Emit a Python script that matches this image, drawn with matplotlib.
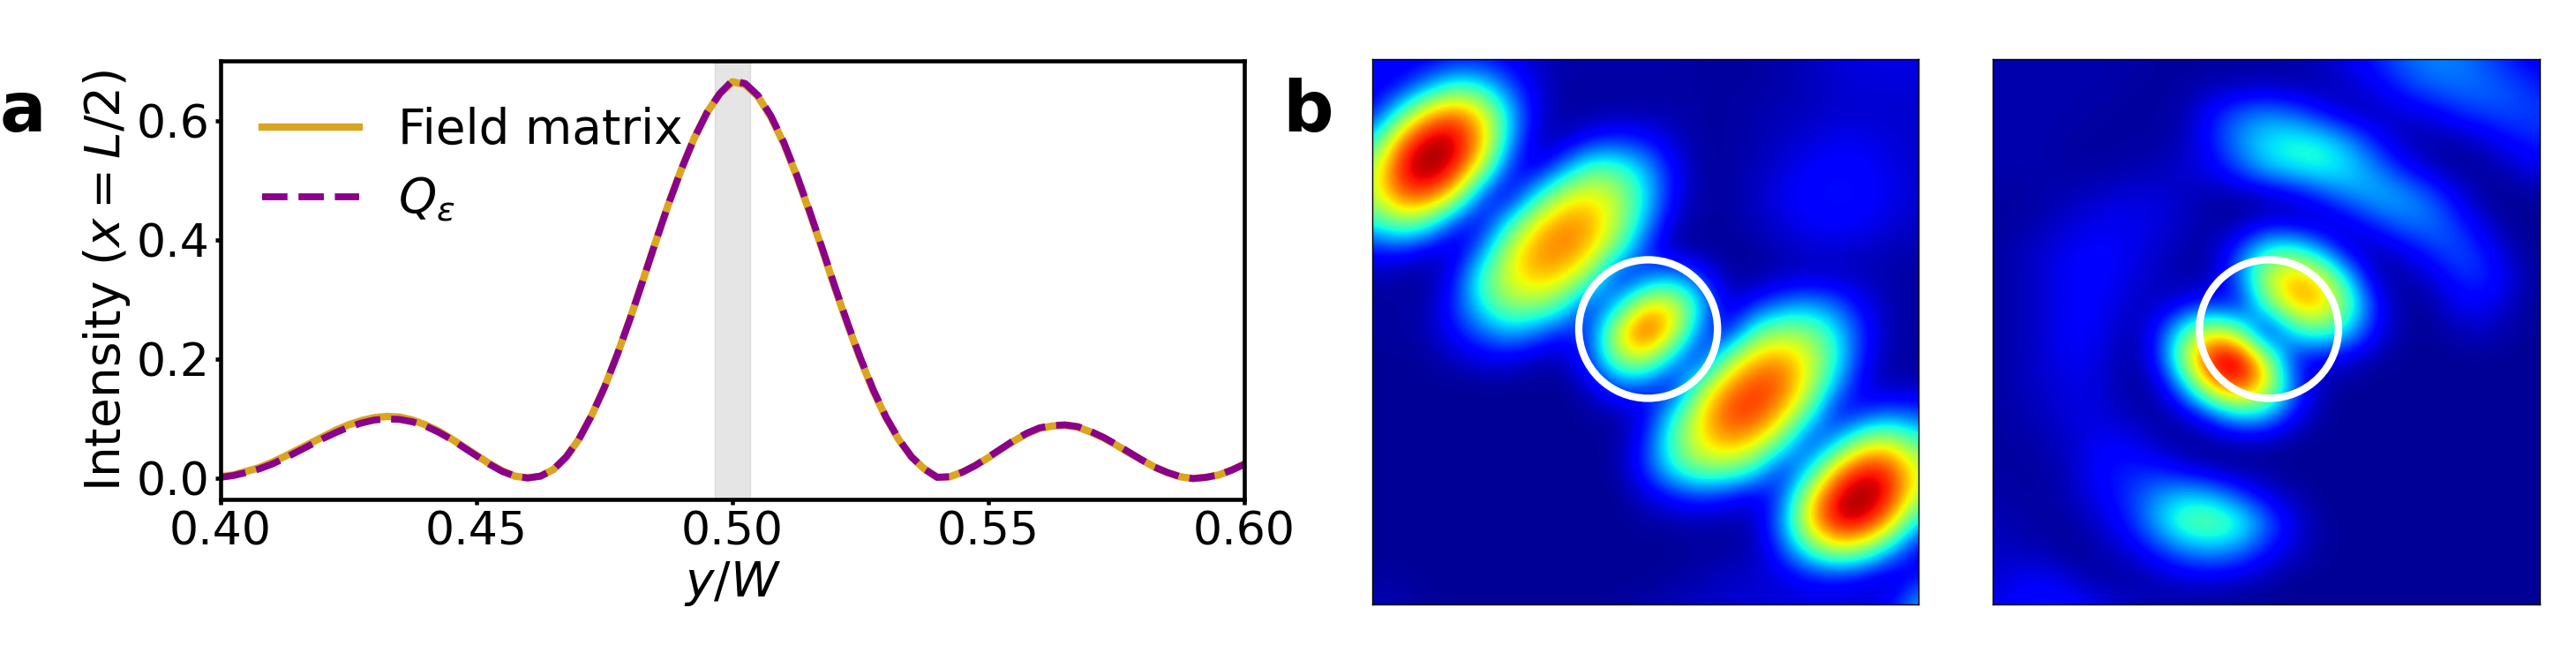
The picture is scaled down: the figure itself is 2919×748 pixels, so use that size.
import numpy as np
import matplotlib
matplotlib.use("Agg")
import matplotlib.pyplot as plt
from matplotlib.patches import Circle

W, H = 2919, 748

y_over_w = [0.4000, 0.4025, 0.4050, 0.4075, 0.4100, 0.4125, 0.4150, 0.4175, 0.4200, 0.4225, 0.4250,
            0.4275, 0.4300, 0.4325, 0.4350, 0.4375, 0.4400, 0.4425, 0.4450, 0.4475, 0.4500,
            0.4525, 0.4550, 0.4575, 0.4600, 0.4625, 0.4650, 0.4675, 0.4700, 0.4725, 0.4750,
            0.4775, 0.4800, 0.4825, 0.4850, 0.4875, 0.4900, 0.4925, 0.4950, 0.4975, 0.5000,
            0.5025, 0.5050, 0.5075, 0.5100, 0.5125, 0.5150, 0.5175, 0.5200, 0.5225, 0.5250,
            0.5275, 0.5300, 0.5325, 0.5350, 0.5375, 0.5400, 0.5425, 0.5450, 0.5475, 0.5500,
            0.5525, 0.5550, 0.5575, 0.5600, 0.5625, 0.5650, 0.5675, 0.5700, 0.5725, 0.5750,
            0.5775, 0.5800, 0.5825, 0.5850, 0.5875, 0.5900, 0.5925, 0.5950, 0.5975, 0.6000]

field_matrix = [0.003, 0.006, 0.012, 0.018, 0.027, 0.037, 0.048, 0.059, 0.070, 0.081, 0.090,
                0.097, 0.102, 0.104, 0.103, 0.098, 0.090, 0.080, 0.067, 0.053, 0.039,
                0.025, 0.013, 0.004, 0.001, 0.004, 0.015, 0.036, 0.066, 0.106, 0.153,
                0.208, 0.268, 0.332, 0.397, 0.460, 0.518, 0.570, 0.613, 0.645, 0.665,
                0.660, 0.640, 0.606, 0.562, 0.508, 0.448, 0.385, 0.320, 0.258, 0.200,
                0.147, 0.102, 0.065, 0.036, 0.016, 0.002, 0.003, 0.011, 0.022, 0.035,
                0.049, 0.063, 0.075, 0.084, 0.088, 0.089, 0.086, 0.078, 0.068, 0.056,
                0.043, 0.031, 0.019, 0.010, 0.003, 0.000, 0.002, 0.006, 0.014, 0.024]

q_eps = [0.002, 0.005, 0.010, 0.016, 0.024, 0.034, 0.045, 0.056, 0.067, 0.077, 0.086,
         0.093, 0.098, 0.100, 0.099, 0.095, 0.088, 0.078, 0.066, 0.052, 0.038,
         0.024, 0.012, 0.004, 0.001, 0.004, 0.015, 0.036, 0.066, 0.106, 0.153,
         0.208, 0.268, 0.332, 0.397, 0.460, 0.518, 0.570, 0.613, 0.645, 0.667,
         0.662, 0.642, 0.608, 0.564, 0.510, 0.450, 0.387, 0.322, 0.260, 0.202,
         0.149, 0.103, 0.066, 0.036, 0.016, 0.002, 0.003, 0.011, 0.022, 0.036,
         0.050, 0.064, 0.076, 0.085, 0.089, 0.090, 0.087, 0.079, 0.069, 0.057,
         0.044, 0.031, 0.019, 0.010, 0.003, 0.000, 0.002, 0.006, 0.014, 0.024]

x_ticks = [0.40, 0.45, 0.50, 0.55, 0.60]
y_ticks = [0.0, 0.2, 0.4, 0.6]
band = [0.4965, 0.5035]

# intensity in percent, sampled on a 21x21 grid over each panel
map_left = [
    [12, 10, 10, 12, 13, 10, 6, 4, 4, 4, 4, 4, 3, 3, 3, 4, 6, 8, 9, 9, 9],
    [9, 12, 26, 42, 38, 21, 8, 3, 3, 3, 3, 3, 3, 3, 3, 4, 5, 7, 8, 8, 8],
    [12, 41, 72, 82, 68, 34, 9, 3, 3, 4, 4, 4, 3, 3, 4, 5, 6, 7, 7, 7, 7],
    [35, 78, 97, 96, 75, 31, 5, 5, 14, 17, 14, 7, 3, 3, 4, 6, 8, 10, 10, 8, 7],
    [55, 90, 100, 92, 60, 15, 7, 26, 46, 44, 31, 12, 3, 3, 5, 8, 11, 13, 12, 9, 7],
    [57, 82, 85, 66, 18, 7, 36, 60, 66, 57, 36, 12, 3, 3, 6, 10, 13, 14, 13, 10, 7],
    [38, 52, 45, 16, 9, 38, 66, 77, 75, 57, 30, 6, 3, 3, 5, 8, 11, 12, 11, 8, 6],
    [13, 15, 8, 6, 24, 60, 76, 79, 70, 46, 16, 3, 2, 2, 3, 5, 7, 7, 6, 5, 4],
    [4, 3, 2, 12, 43, 63, 72, 68, 50, 9, 20, 30, 18, 3, 3, 5, 6, 6, 5, 4, 3],
    [3, 3, 4, 16, 38, 53, 54, 43, 12, 32, 68, 66, 36, 6, 14, 24, 28, 22, 10, 4, 3],
    [3, 3, 4, 13, 22, 31, 24, 14, 18, 66, 88, 68, 22, 9, 45, 54, 52, 36, 15, 4, 3],
    [2, 2, 3, 5, 9, 9, 5, 4, 20, 54, 62, 30, 9, 52, 72, 76, 63, 39, 12, 3, 3],
    [2, 2, 2, 2, 2, 2, 2, 2, 6, 22, 18, 8, 52, 76, 86, 83, 60, 28, 8, 4, 5],
    [2, 2, 2, 2, 2, 2, 2, 2, 3, 3, 9, 36, 66, 85, 86, 72, 43, 10, 15, 22, 18],
    [2, 2, 2, 2, 2, 2, 2, 2, 2, 3, 15, 45, 66, 76, 70, 48, 13, 28, 56, 60, 42],
    [2, 2, 2, 2, 2, 2, 2, 2, 2, 3, 17, 39, 52, 52, 41, 12, 31, 72, 91, 86, 60],
    [2, 2, 2, 2, 2, 2, 2, 2, 2, 2, 7, 14, 18, 14, 8, 18, 63, 94, 100, 90, 56],
    [2, 2, 2, 2, 2, 2, 2, 2, 2, 2, 3, 3, 4, 3, 5, 26, 70, 94, 94, 72, 30],
    [2, 2, 2, 2, 2, 2, 2, 2, 2, 2, 2, 2, 3, 3, 4, 18, 43, 60, 53, 29, 9],
    [3, 3, 2, 2, 2, 2, 2, 2, 2, 2, 2, 3, 4, 6, 7, 8, 12, 13, 9, 5, 13],
    [5, 4, 3, 2, 2, 2, 2, 2, 2, 3, 4, 5, 6, 7, 8, 8, 8, 8, 8, 12, 32],
]

map_right = [
    [4, 4, 4, 4, 4, 4, 3, 3, 3, 3, 3, 4, 6, 10, 16, 22, 26, 25, 20, 14, 10],
    [4, 4, 4, 4, 4, 3, 3, 3, 4, 5, 5, 4, 4, 6, 10, 17, 22, 24, 23, 20, 15],
    [4, 4, 4, 4, 3, 3, 3, 4, 14, 22, 26, 22, 13, 6, 5, 7, 10, 15, 19, 20, 18],
    [4, 4, 4, 3, 3, 3, 3, 5, 14, 27, 36, 40, 38, 28, 14, 5, 3, 4, 7, 13, 16],
    [4, 4, 4, 3, 3, 4, 5, 7, 10, 20, 32, 37, 40, 36, 26, 14, 6, 2, 3, 6, 10],
    [3, 3, 4, 5, 7, 8, 8, 6, 4, 3, 4, 8, 17, 26, 31, 29, 21, 10, 2, 2, 3],
    [3, 3, 5, 8, 10, 10, 9, 6, 3, 3, 8, 6, 4, 8, 17, 24, 25, 17, 7, 2, 2],
    [3, 5, 8, 11, 12, 10, 7, 4, 4, 18, 40, 43, 27, 7, 4, 9, 17, 21, 14, 4, 2],
    [3, 5, 8, 12, 12, 9, 6, 3, 4, 24, 60, 75, 66, 33, 5, 3, 7, 16, 17, 8, 2],
    [3, 5, 8, 12, 11, 7, 5, 10, 15, 9, 46, 72, 74, 48, 14, 3, 3, 10, 11, 5, 2],
    [3, 5, 8, 12, 10, 4, 12, 44, 65, 52, 5, 36, 46, 33, 11, 3, 2, 5, 6, 3, 2],
    [3, 5, 8, 11, 8, 3, 12, 56, 97, 100, 60, 12, 9, 7, 3, 2, 2, 2, 2, 2, 2],
    [3, 5, 7, 9, 8, 3, 4, 30, 72, 90, 68, 24, 4, 2, 2, 2, 2, 2, 2, 2, 2],
    [3, 4, 6, 9, 8, 5, 3, 6, 20, 36, 33, 12, 3, 2, 2, 2, 2, 2, 2, 2, 2],
    [3, 3, 5, 7, 11, 10, 5, 2, 2, 4, 4, 2, 2, 2, 2, 2, 2, 2, 2, 2, 2],
    [3, 3, 3, 7, 13, 15, 14, 8, 4, 2, 2, 2, 2, 2, 2, 2, 2, 2, 2, 2, 2],
    [4, 3, 3, 6, 11, 17, 27, 33, 30, 19, 9, 4, 2, 2, 2, 2, 2, 2, 2, 2, 2],
    [5, 4, 3, 3, 8, 15, 30, 47, 50, 42, 24, 9, 3, 2, 2, 2, 2, 2, 2, 2, 2],
    [6, 5, 4, 2, 4, 8, 16, 25, 29, 25, 14, 7, 3, 2, 2, 2, 2, 2, 2, 2, 2],
    [7, 10, 10, 6, 3, 3, 5, 8, 9, 7, 4, 2, 2, 2, 2, 2, 2, 2, 2, 2, 2],
    [9, 13, 15, 13, 9, 6, 4, 3, 2, 2, 2, 2, 2, 2, 2, 2, 2, 2, 2, 2, 2],
]


def box(left, top, right, bottom):
    return [left / W, 1 - bottom / H, (right - left) / W, (bottom - top) / H]


plt.rcParams["font.size"] = 37.5
plt.rcParams["mathtext.fontset"] = "dejavusans"

fig = plt.figure(figsize=(W / 100, H / 100), dpi=100)

ax = fig.add_axes(box(250, 69, 1410, 566))
ax.axvspan(band[0], band[1], color="gray", alpha=0.2)
ax.plot(y_over_w, field_matrix, color="goldenrod", lw=6, label="Field matrix")
ax.plot(y_over_w, q_eps, color="darkmagenta", lw=5.6, ls="--", label=r"$Q_{\varepsilon}$")
ax.set_xlim(0.40, 0.60)
ax.set_ylim(-0.035, 0.70)
ax.set_xticks(x_ticks)
ax.set_xticklabels(["%.2f" % t for t in x_ticks])
ax.set_yticks(y_ticks)
ax.set_yticklabels(["%.1f" % t for t in y_ticks])
ax.tick_params(width=3.3, length=4, pad=5)
for s in ax.spines.values():
    s.set_linewidth(3.3)
ax.set_xlabel(r"$y/W$", labelpad=4, fontsize=39.5)
ax.set_ylabel(r"Intensity ($x=L/2$)", labelpad=3, fontsize=39.5)
ax.legend(loc="upper left", frameon=False, bbox_to_anchor=(-0.002, 0.995), fontsize=39.5,
          handlelength=2.0, handletextpad=0.8, labelspacing=0.45)

for data, pos in [(map_left, box(1555, 67, 2174, 685)), (map_right, box(2258, 67, 2878, 685))]:
    hm = fig.add_axes(pos)
    hm.imshow(np.array(data) / 100, cmap="jet", vmin=0, vmax=1, interpolation="bicubic",
              extent=[-0.025, 1.025, 1.025, -0.025], aspect="auto")
    hm.set_xlim(0, 1)
    hm.set_ylim(1, 0)
    hm.set_xticks([])
    hm.set_yticks([])
    for s in hm.spines.values():
        s.set_linewidth(1)
    hm.add_patch(Circle((0.505, 0.495), 0.127, fill=False, ec="white", lw=6))

fig.text(0, 1 - 149 / H, "a", fontsize=56, fontweight="bold", va="baseline")
fig.text(1453 / W, 1 - 149 / H, "b", fontsize=58, fontweight="bold", va="baseline")

fig.savefig("out.png", dpi=100)
